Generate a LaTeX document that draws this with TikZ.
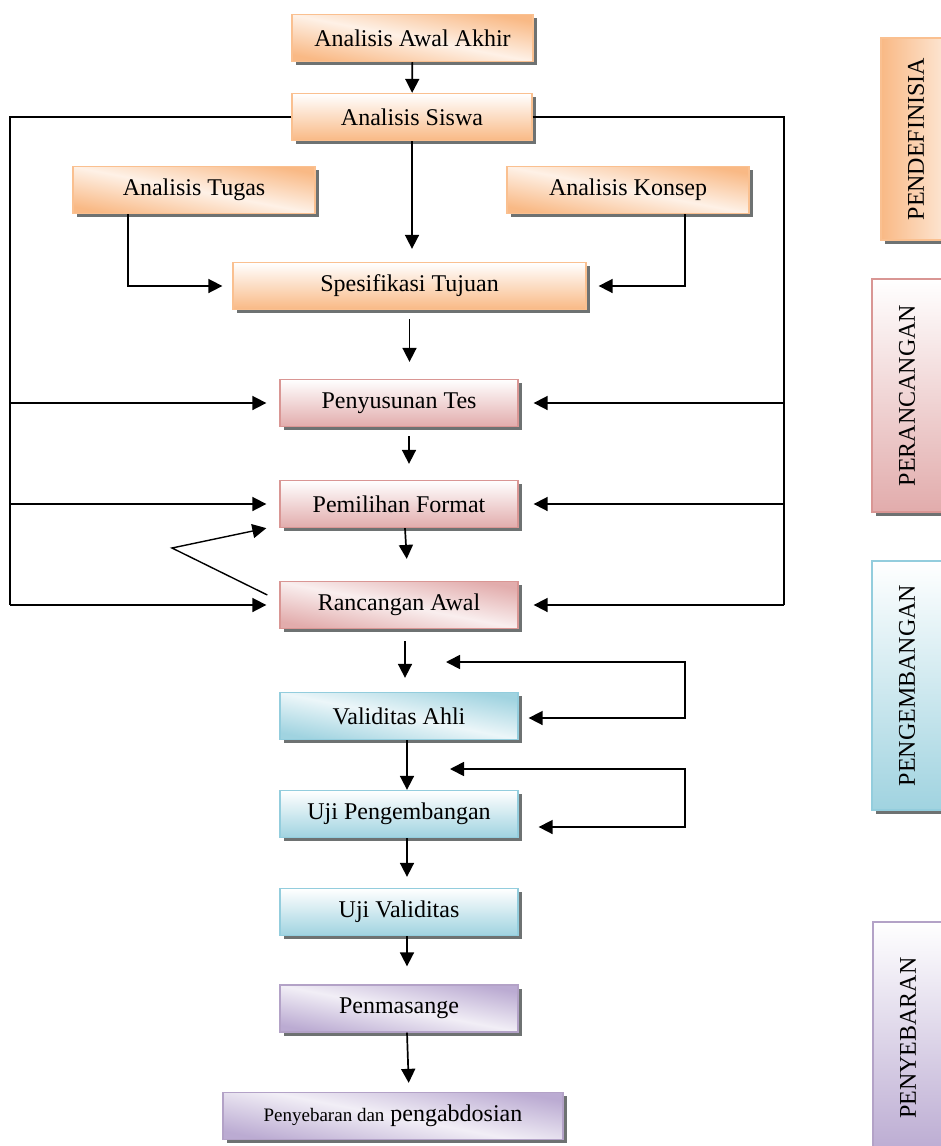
\documentclass[tikz,border=0pt]{standalone}
\usepackage{graphicx}
\usepackage{fontspec}
\setmainfont{Liberation Serif}
\usetikzlibrary{arrows.meta,shadows}

\definecolor{orline}{HTML}{FAC090}
\definecolor{orfill}{HTML}{F9B985}
\definecolor{rdline}{HTML}{D99694}
\definecolor{rdfill}{HTML}{E2ACAC}
\definecolor{blline}{HTML}{93CDDD}
\definecolor{blfill}{HTML}{A0D3E0}
\definecolor{puline}{HTML}{B3A2C7}
\definecolor{pufill}{HTML}{BBABD2}
\definecolor{shadowgray}{HTML}{6E7272}

\tikzset{
	stage/.style={line width=1.3pt, minimum height=47pt, inner sep=0pt,
		font=\fontsize{24}{28}\selectfont,
		drop shadow={shadow xshift=3.5pt, shadow yshift=-3.5pt, fill=shadowgray, opacity=1}},
	boxflat/.style 2 args={stage, draw=#1, top color=white, bottom color=#2},
	boxslant/.style 2 args={stage, draw=#1, top color=#2, bottom color=#2, middle color=#2!20, shading angle=-11},
	phase/.style={stage, minimum width=70pt},
	arr/.style={line width=1.7pt, -{Triangle[length=14pt,width=14pt]}},
	twoway/.style={line width=1.7pt, {Triangle[length=14pt,width=14pt]}-{Triangle[length=14pt,width=14pt]}},
	plain/.style={line width=1.7pt},
}

\begin{document}
\begin{tikzpicture}[x=1pt, y=-1pt]
	\useasboundingbox (0,0) rectangle (940,1146);

	% tahap pendefinisian
	\node[boxslant={orline}{orfill}, minimum width=241pt] (awal)   at (412.5, 38)  {Analisis Awal Akhir};
	\node[boxflat={orline}{orfill},  minimum width=240pt] (siswa)  at (412, 117)   {Analisis Siswa};
	\node[boxslant={orline}{orfill}, minimum width=242pt] (tugas)  at (194, 190)   {Analisis Tugas};
	\node[boxslant={orline}{orfill}, minimum width=242pt] (konsep) at (628, 190)   {Analisis Konsep};
	\node[boxflat={orline}{orfill},  minimum width=353pt] (tujuan) at (409.5, 286) {Spesifikasi Tujuan};

	% tahap perancangan
	\node[boxflat={rdline}{rdfill},  minimum width=238pt] (tes)       at (399, 403) {Penyusunan Tes};
	\node[boxflat={rdline}{rdfill},  minimum width=238pt] (format)    at (399, 504) {Pemilihan Format};
	\node[boxslant={rdline}{rdfill}, minimum width=238pt] (rancangan) at (399, 605) {Rancangan Awal};

	% tahap pengembangan
	\node[boxslant={blline}{blfill}, minimum width=238pt] (validitas)  at (399, 716) {Validitas Ahli};
	\node[boxflat={blline}{blfill},  minimum width=238pt] (ujikembang) at (399, 814) {Uji Pengembangan};
	\node[boxflat={blline}{blfill},  minimum width=238pt] (ujivalid)   at (399, 912) {Uji Validitas};

	% tahap penyebaran
	\node[boxslant={puline}{pufill}, minimum width=238pt] (pasang) at (399, 1008.5) {Penmasange};
	\node[boxslant={puline}{pufill}, minimum width=340pt] (sebar)  at (393, 1116)   {{\fontsize{19}{22}\selectfont Penyebaran dan} pengabdosian};

	% label tahap di kanan
	\node[phase, draw=orline, left color=orfill, right color=orfill!30, minimum height=202pt] (definisi) at (916, 139)   {\rotatebox{90}{PENDEFINISIA}};
	\node[phase, draw=rdline, top color=white, bottom color=rdfill, minimum height=233pt]     (rancang)  at (907, 395.5) {\rotatebox{90}{PERANCANGAN}};
	\node[phase, draw=blline, top color=white, bottom color=blfill, minimum height=249pt]     (kembang)  at (907, 685.5) {\rotatebox{90}{PENGEMBANGAN}};
	\node[phase, draw=puline, top color=white, bottom color=pufill, minimum height=232pt]     (sebaran)  at (908, 1038)  {\rotatebox{90}{PENYEBARAN}};

	\coordinate (leftbot)  at (10, 605);
	\coordinate (rightbot) at (784, 605);
	\coordinate (bend)     at (172, 548);
	\coordinate (fbtopa)   at (446, 662);
	\coordinate (fbcorna)  at (685, 662);
	\coordinate (fbtopb)   at (450, 769);
	\coordinate (fbcornb)  at (685, 769);

	\draw[arr] (awal) -- (siswa);
	\draw[arr, shorten >=13pt] (siswa.south) -- (siswa.south |- tujuan.north);
	\draw[arr, shorten >=10pt] ([xshift=-66pt]tugas.south) |- (tujuan.west);
	\draw[arr, shorten >=12pt] ([xshift=57pt]konsep.south) |- (tujuan.east);
	\draw[arr, shorten <=9pt, shorten >=17pt] (tujuan.south) -- (tujuan.south |- tes.north);
	\draw[arr, shorten <=9pt, shorten >=16pt] ([xshift=10pt]tes.south) -- ([xshift=10pt]format.north);
	\draw[arr, shorten >=22pt] ([xshift=6pt]format.south) -- ([xshift=9pt]rancangan.north);

	% umpan balik dari analisis siswa
	\draw[plain] (siswa.west) -| (leftbot);
	\draw[arr, shorten >=13pt] (leftbot |- tes.west) -- (tes.west);
	\draw[arr, shorten >=13pt] (leftbot |- format.west) -- (format.west);
	\draw[arr, shorten >=13pt] (leftbot) -- (rancangan.west);
	\draw[plain] (siswa.east) -| (rightbot);
	\draw[arr, shorten >=15pt] (rightbot |- tes.east) -- (tes.east);
	\draw[arr, shorten >=15pt] (rightbot |- format.east) -- (format.east);
	\draw[arr, shorten >=15pt] (rightbot) -- (rancangan.east);
	\draw[arr, line width=1.4pt] ([xshift=-12pt,yshift=10pt]rancangan.west) -- (bend) -- ([xshift=-13pt]format.south west);

	\draw[arr, shorten <=12pt, shorten >=14pt] ([xshift=6pt]rancangan.south) -- ([xshift=6pt]validitas.north);
	\draw[twoway, shorten >=10pt] (fbtopa) -- (fbcorna) |- ([yshift=-2pt]validitas.east);
	\draw[arr] ([xshift=8pt]validitas.south) -- ([xshift=8pt]ujikembang.north);
	\draw[twoway, shorten >=20pt] (fbtopb) -- (fbcornb) |- ([yshift=-13pt]ujikembang.east);
	\draw[arr, shorten >=11pt] ([xshift=8pt]ujikembang.south) -- ([xshift=8pt]ujivalid.north);
	\draw[arr, shorten >=18pt] ([xshift=8pt]ujivalid.south) -- ([xshift=8pt]pasang.north);
	\draw[arr, shorten >=9pt] ([xshift=8pt]pasang.south) -- ([xshift=16pt]sebar.north);

\end{tikzpicture}
\end{document}
